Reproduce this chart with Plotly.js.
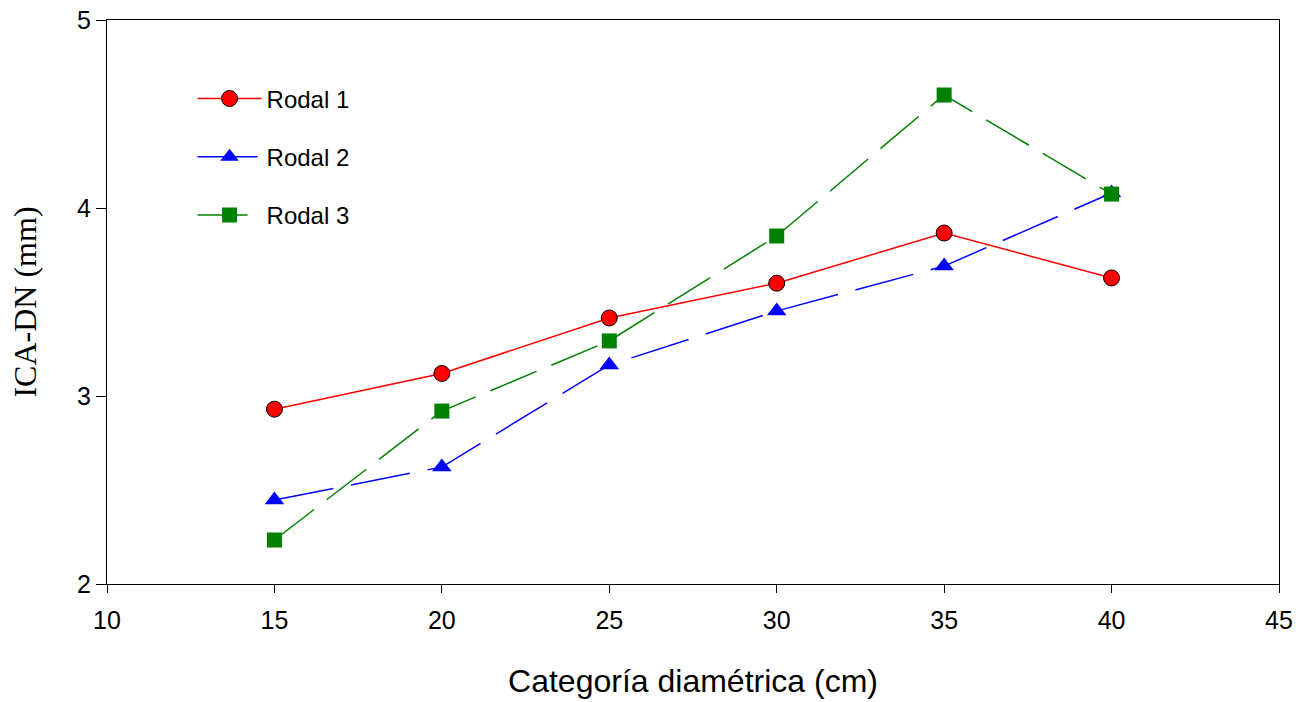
<!DOCTYPE html>
<html>
<head>
<meta charset="utf-8">
<script src="https://cdn.plot.ly/plotly-3.0.1.min.js"></script>
<style>body{margin:0;background:#fff;} #chart{width:1310px;height:702px;}</style>
</head>
<body>
<div id="chart"></div>
<script>
const diametros = [15, 20, 25, 30, 35, 40];
const rodal1 = [2.93, 3.12, 3.415, 3.60, 3.867, 3.628];
const rodal2 = [2.447, 2.622, 3.165, 3.452, 3.691, 4.08];
const rodal3 = [2.234, 2.92, 3.293, 3.851, 4.601, 4.074];
const nombres = ["Rodal 1", "Rodal 2", "Rodal 3"];
const xTicks = [10, 15, 20, 25, 30, 35, 40, 45];
const yTicks = [2, 3, 4, 5];

const traces = [
  {x: diametros, y: rodal1, name: nombres[0], mode: 'lines+markers', legendgroup: 'a',
   line: {color: '#ff0000', width: 1.5},
   marker: {symbol: 'circle', size: 16, color: '#ff0000', line: {color: '#000', width: 1}}},
  {x: diametros, y: rodal2, name: nombres[1], mode: 'lines+markers', legendgroup: 'b',
   line: {color: '#0000ff', width: 1.5, dash: '60px,18px'},
   marker: {symbol: 'triangle-up', size: 17, color: '#0000ff', line: {width: 0}}},
  {x: diametros, y: rodal3, name: nombres[2], mode: 'lines+markers', legendgroup: 'c',
   line: {color: '#008000', width: 1.5, dash: '50px,16px'},
   marker: {symbol: 'square', size: 15, color: '#008000', line: {width: 0}}}
];

const layout = {
  width: 1310, height: 702,
  margin: {l: 107, r: 31, t: 20, b: 118},
  paper_bgcolor: '#fff', plot_bgcolor: '#fff',
  font: {family: 'Liberation Sans, Arial, sans-serif', color: '#000', size: 24},
  showlegend: true,
  legend: {x: 0.073, y: 0.9, xanchor: 'left', yanchor: 'top', bgcolor: 'rgba(0,0,0,0)',
           font: {size: 24}, tracegroupgap: 24, itemwidth: 64},
  xaxis: {range: [10, 45], tickvals: xTicks, ticktext: xTicks.map(String),
          showgrid: false, zeroline: false, showline: true, linecolor: '#000', linewidth: 1, mirror: true,
          ticks: 'outside', ticklen: 8, tickcolor: '#000', tickfont: {size: 25}, ticklabelstandoff: 6,
          title: {text: 'Categoría diamétrica (cm)', font: {size: 32}, standoff: 36}},
  yaxis: {range: [2, 5], tickvals: yTicks, ticktext: yTicks.map(String),
          showgrid: false, zeroline: false, showline: true, linecolor: '#000', linewidth: 1, mirror: true,
          ticks: 'outside', ticklen: 10, tickcolor: '#000', tickfont: {size: 25},
          title: {text: 'ICA-DN (mm)', font: {size: 32, family: 'Liberation Serif, Times New Roman, serif'}, standoff: 30}}
};

Plotly.newPlot('chart', traces, layout, {displayModeBar: false, staticPlot: true});
</script>
</body>
</html>
